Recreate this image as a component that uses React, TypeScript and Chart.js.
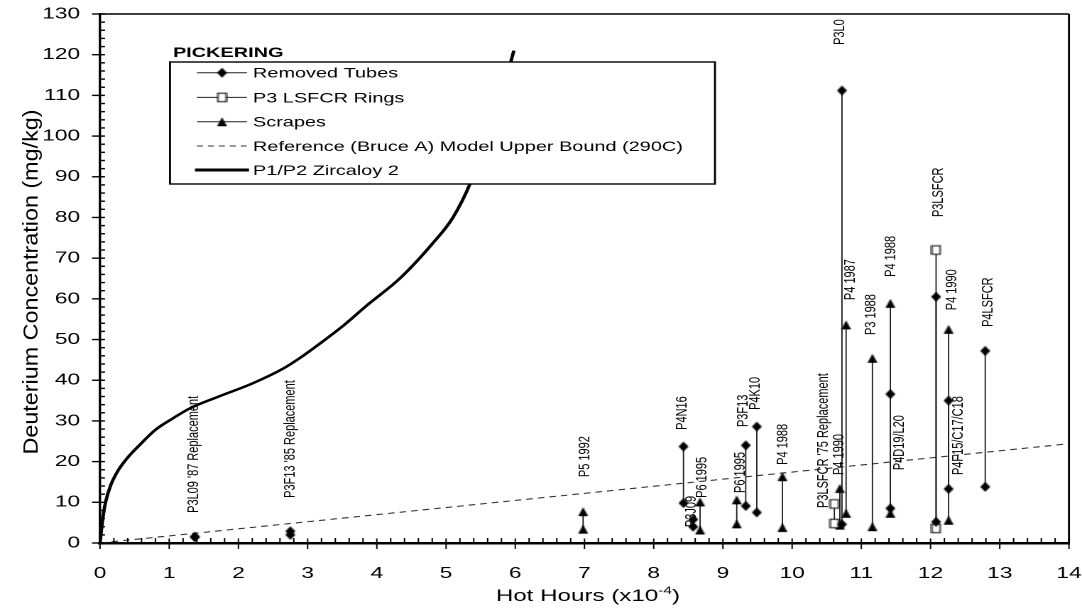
import React, { useEffect, useRef } from "react";
import { Chart, registerables } from "chart.js";

Chart.register(...registerables);

// ---- page / stretch (the reference is horizontally stretched) ----
const STRETCH = 1.42;
const PAGE_W = 1082;
const PAGE_H = 608;
const CW = Math.round(PAGE_W / STRETCH);
const FONT = "'Liberation Sans', Arial, Helvetica, sans-serif";

// ---- data ----
// Removed Tubes (diamonds): x, upper value, lower value
const tubeX = [1.37, 2.75, 8.43, 8.57, 9.33, 9.49, 10.72, 11.42, 12.08, 12.26, 12.79];
const tubeHigh = [1.5, 2.9, 23.7, 5.8, 24.0, 28.6, 111.2, 36.6, 60.5, 35.0, 47.2];
const tubeLow = [1.5, 2.0, 9.8, 4.0, 9.1, 7.5, 4.6, 8.5, 5.2, 13.3, 13.8];

// P3 LSFCR Rings (open squares)
const ringX = [10.61, 12.08];
const ringHigh = [9.6, 72.0];
const ringLow = [4.8, 3.6];

// Scrapes (triangles)
const scrapeX = [6.98, 8.67, 9.2, 9.86, 10.69, 10.78, 11.16, 11.42, 12.26];
const scrapeHigh = [7.7, 10.1, 10.6, 16.3, 13.4, 53.6, 45.4, 58.9, 52.5];
const scrapeLow = [3.4, 3.2, 4.7, 3.8, 4.4, 7.3, 4.0, 7.3, 5.6];

// Reference (Bruce A) Model Upper Bound (290C)
const refX = [0, 14];
const refY = [0, 24.4];

// P1/P2 Zircaloy 2
const curveX = [0, 0.04, 0.08, 0.15, 0.25, 0.4, 0.55, 0.8, 1.05, 1.3, 1.7, 2.2, 2.65, 2.9, 3.2, 3.5, 3.85, 4.35, 4.8, 5.1, 5.35, 5.6, 5.8, 5.98];
const curveY = [0, 6, 10, 14, 17.5, 21, 23.7, 27.8, 30.6, 33.1, 35.9, 39.2, 42.9, 45.6, 49.3, 53.2, 58.3, 65.3, 73.5, 80, 88.4, 100, 110, 121];

// annotation labels (rotated), anchored at x value / y value of the text start
const labelTexts = [
  "P3L09 '87 Replacement", "P3F13 '85 Replacement", "P5 1992", "P4N16", "P3J09",
  "P6 1995", "P6 1995", "P3F13", "P4K10", "P4 1988", "P3LSFCR '75 Replacement",
  "P4 1990", "P3L0", "P4 1987", "P3 1988", "P4 1988", "P4D19/L20", "P3LSFCR",
  "P4 1990", "P4F15/C17/C18", "P4LSFCR",
];
const labelX = [1.36, 2.75, 7.01, 8.41, 8.55, 8.7, 9.25, 9.29, 9.47, 9.87, 10.45, 10.68, 10.69, 10.84, 11.14, 11.43, 11.55, 12.12, 12.31, 12.4, 12.83];
const labelY = [7.4, 11.1, 16.2, 27.8, 3.9, 11.1, 12.3, 28.5, 32.7, 19.2, 8.6, 16.7, 122.4, 59.7, 51.1, 65.4, 17.9, 80.1, 57.2, 16.7, 53.1];

const legendTitle = "PICKERING";
const legendLabels = [
  "Removed Tubes",
  "P3 LSFCR Rings",
  "Scrapes",
  "Reference (Bruce A) Model Upper Bound (290C)",
  "P1/P2 Zircaloy 2",
];

const xTitle = "Hot Hours (x10";
const xTitleSup = "-4";
const xTitleEnd = ")";
const yTitle = "Deuterium Concentration (mg/kg)";

function pairSeries(xs: number[], hi: number[], lo: number[]) {
  const out: { x: number; y: number | null }[] = [];
  xs.forEach((x, i) => {
    out.push({ x, y: hi[i] });
    out.push({ x, y: lo[i] });
    out.push({ x, y: null });
  });
  return out;
}

function markerCanvas(kind: "diamond" | "square" | "triangle") {
  const w = (kind === "square" ? 8.5 : 10) / STRETCH;
  const h = kind === "square" ? 8.5 : kind === "triangle" ? 9 : 10;
  const c = document.createElement("canvas");
  const cw = Math.ceil(w) + 2;
  const ch = Math.ceil(h) + 2;
  c.width = cw;
  c.height = ch;
  const g = c.getContext("2d")!;
  const cx = cw / 2;
  const cy = ch / 2;
  g.fillStyle = "#000";
  g.strokeStyle = "#000";
  g.beginPath();
  if (kind === "diamond") {
    g.moveTo(cx, cy - h / 2);
    g.lineTo(cx + w / 2, cy);
    g.lineTo(cx, cy + h / 2);
    g.lineTo(cx - w / 2, cy);
    g.closePath();
    g.fill();
  } else if (kind === "triangle") {
    g.moveTo(cx, cy - h / 2);
    g.lineTo(cx + w / 2, cy + h / 2);
    g.lineTo(cx - w / 2, cy + h / 2);
    g.closePath();
    g.fill();
  } else {
    g.fillStyle = "#fff";
    g.fillRect(cx - w / 2, cy - h / 2, w, h);
    g.lineWidth = 1;
    g.strokeRect(cx - w / 2, cy - h / 2, w, h);
  }
  return c;
}

export default function App() {
  const ref = useRef<HTMLCanvasElement | null>(null);

  useEffect(() => {
    if (!ref.current) return;
    const diamond = markerCanvas("diamond");
    const square = markerCanvas("square");
    const triangle = markerCanvas("triangle");

    const decor = {
      id: "decor",
      afterDatasetsDraw(chart: any) {
        const { ctx, chartArea: a, scales } = chart;
        const xs = scales.x;
        const ys = scales.y;
        ctx.save();
        ctx.strokeStyle = "#000";
        ctx.fillStyle = "#000";

        // frame top & right
        ctx.lineWidth = 1.6;
        ctx.beginPath();
        ctx.moveTo(a.left, a.top);
        ctx.lineTo(a.right, a.top);
        ctx.stroke();
        ctx.lineWidth = 1.4;
        ctx.beginPath();
        ctx.moveTo(a.right, a.top);
        ctx.lineTo(a.right, a.bottom);
        ctx.stroke();

        // x ticks
        ctx.lineWidth = 1;
        for (let i = 0; i <= 70; i++) {
          const v = i * 0.2;
          const px = xs.getPixelForValue(v);
          const major = i % 5 === 0;
          ctx.beginPath();
          ctx.moveTo(px, a.bottom - (major ? 4.5 : 5));
          ctx.lineTo(px, a.bottom + (major ? 6 : 0));
          ctx.stroke();
        }
        // y ticks
        ctx.lineWidth = 1.4;
        for (let i = 0; i <= 65; i++) {
          const v = i * 2;
          const py = ys.getPixelForValue(v);
          const major = i % 5 === 0;
          ctx.beginPath();
          ctx.moveTo(a.left - (major ? 8 / STRETCH : 0), py);
          ctx.lineTo(a.left + 5 / STRETCH, py);
          ctx.stroke();
        }

        // rotated annotation labels
        ctx.font = `11px ${FONT}`;
        ctx.textAlign = "left";
        ctx.textBaseline = "middle";
        labelTexts.forEach((t, i) => {
          const px = xs.getPixelForValue(labelX[i]);
          const py = ys.getPixelForValue(labelY[i]);
          ctx.save();
          ctx.translate(px, py);
          ctx.rotate(-Math.PI / 2);
          ctx.fillText(t, 0, 0);
          ctx.restore();
        });

        // legend
        const bx = 170 / STRETCH;
        const by = 62;
        const bw = (715 - 170) / STRETCH;
        const bh = 122;
        ctx.fillStyle = "#fff";
        ctx.fillRect(bx, by, bw, bh);
        ctx.strokeStyle = "#000";
        ctx.lineWidth = 1.4;
        ctx.strokeRect(bx, by, bw, bh);
        ctx.fillStyle = "#000";
        ctx.font = `bold 14px ${FONT}`;
        ctx.textAlign = "left";
        ctx.textBaseline = "alphabetic";
        ctx.fillText(legendTitle, 173 / STRETCH, 57);

        const rowY = [72.7, 97.4, 121.7, 146, 170];
        const sx0 = 197 / STRETCH;
        const sx1 = 247 / STRETCH;
        const mx = 222 / STRETCH;
        const tx = 253 / STRETCH;
        ctx.font = `14px ${FONT}`;
        ctx.textBaseline = "middle";
        const markers = [diamond, square, triangle];
        rowY.forEach((ry, i) => {
          ctx.save();
          if (i < 3) {
            ctx.strokeStyle = "#222";
            ctx.lineWidth = 1;
            ctx.beginPath();
            ctx.moveTo(sx0, ry);
            ctx.lineTo(sx1, ry);
            ctx.stroke();
            const m = markers[i];
            ctx.drawImage(m, mx - m.width / 2, ry - m.height / 2, m.width, m.height);
          } else if (i === 3) {
            ctx.strokeStyle = "#333";
            ctx.lineWidth = 1.1;
            ctx.setLineDash([4.2, 3.5]);
            ctx.beginPath();
            ctx.moveTo(sx0, ry);
            ctx.lineTo(sx1, ry);
            ctx.stroke();
          } else {
            ctx.strokeStyle = "#000";
            ctx.lineWidth = 3;
            ctx.beginPath();
            ctx.moveTo(195 / STRETCH, ry);
            ctx.lineTo(249 / STRETCH, ry);
            ctx.stroke();
          }
          ctx.restore();
          ctx.fillText(legendLabels[i], tx, ry + 1);
        });

        // x axis title with superscript
        ctx.textBaseline = "alphabetic";
        ctx.textAlign = "left";
        const mainFont = `17px ${FONT}`;
        const supFont = `11px ${FONT}`;
        ctx.font = mainFont;
        const w1 = ctx.measureText(xTitle).width;
        const w3 = ctx.measureText(xTitleEnd).width;
        ctx.font = supFont;
        const w2 = ctx.measureText(xTitleSup).width;
        const total = w1 + w2 + w3;
        let sx = 588 / STRETCH - total / 2;
        const base = 601;
        ctx.font = mainFont;
        ctx.fillText(xTitle, sx, base);
        sx += w1;
        ctx.font = supFont;
        ctx.fillText(xTitleSup, sx, base - 7);
        sx += w2;
        ctx.font = mainFont;
        ctx.fillText(xTitleEnd, sx, base);

        // y axis title
        ctx.save();
        ctx.font = `15px ${FONT}`;
        ctx.textAlign = "center";
        ctx.textBaseline = "middle";
        const yw = ctx.measureText(yTitle).width;
        ctx.translate(32 / STRETCH, 282);
        ctx.rotate(-Math.PI / 2);
        ctx.scale(345 / yw, 1);
        ctx.fillText(yTitle, 0, 0);
        ctx.restore();

        ctx.restore();
      },
    };

    const chart = new Chart(ref.current, {
      type: "scatter",
      data: {
        datasets: [
          {
            label: legendLabels[0],
            data: pairSeries(tubeX, tubeHigh, tubeLow),
            showLine: true,
            borderColor: "#1a1a1a",
            borderWidth: 0.9,
            pointStyle: diamond as any,
            pointRadius: 4,
          },
          {
            label: legendLabels[1],
            data: pairSeries(ringX, ringHigh, ringLow),
            showLine: true,
            borderColor: "#1a1a1a",
            borderWidth: 0.9,
            pointStyle: square as any,
            pointRadius: 4,
          },
          {
            label: legendLabels[2],
            data: pairSeries(scrapeX, scrapeHigh, scrapeLow),
            showLine: true,
            borderColor: "#1a1a1a",
            borderWidth: 0.9,
            pointStyle: triangle as any,
            pointRadius: 4,
          },
          {
            label: legendLabels[3],
            data: refX.map((x, i) => ({ x, y: refY[i] })),
            showLine: true,
            borderColor: "#333",
            borderWidth: 1.1,
            borderDash: [4.6, 3.6],
            pointRadius: 0,
          },
          {
            label: legendLabels[4],
            data: curveX.map((x, i) => ({ x, y: curveY[i] })),
            showLine: true,
            borderColor: "#000",
            borderWidth: 2.4,
            cubicInterpolationMode: "monotone",
            pointRadius: 0,
          },
        ],
      },
      options: {
        responsive: false,
        animation: false,
        devicePixelRatio: 2,
        layout: { padding: { left: 0, right: CW - 1069 / STRETCH, top: 14, bottom: 0 } },
        plugins: { legend: { display: false }, tooltip: { enabled: false } },
        scales: {
          x: {
            type: "linear",
            min: 0,
            max: 14,
            ticks: { stepSize: 1, padding: 21, autoSkip: false, maxRotation: 0, color: "#000", font: { family: FONT, size: 16 } },
            grid: { display: false, drawTicks: false },
            border: { display: true, color: "#000", width: 2.5 },
            afterFit: (s: any) => {
              s.height = 65;
              s.paddingLeft = 0;
              s.paddingRight = 0;
            },
          },
          y: {
            type: "linear",
            min: 0,
            max: 130,
            ticks: { stepSize: 10, padding: 14, color: "#000", font: { family: FONT, size: 16 } },
            grid: { display: false, drawTicks: false },
            border: { display: true, color: "#000", width: 1.7 },
            afterFit: (s: any) => {
              s.width = 100 / STRETCH;
              s.paddingTop = 0;
              s.paddingBottom = 0;
            },
          },
        },
      },
      plugins: [decor],
    } as any);

    return () => {
      chart.destroy();
    };
  }, []);

  return (
    <div style={{ position: "absolute", left: 0, top: 0, width: PAGE_W, height: PAGE_H, background: "#fff" }}>
      <canvas
        ref={ref}
        width={CW}
        height={PAGE_H}
        style={{ width: `${PAGE_W}px`, height: `${PAGE_H}px`, display: "block" }}
      />
    </div>
  );
}
